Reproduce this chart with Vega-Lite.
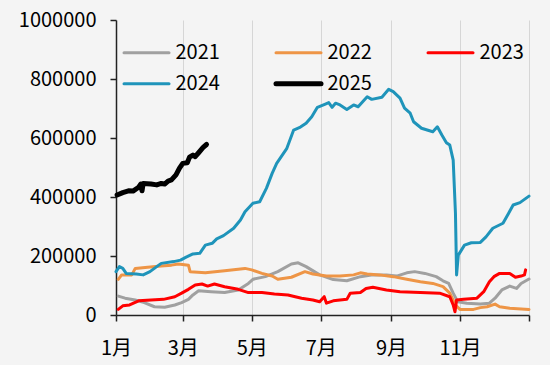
{
 "$schema": "https://vega.github.io/schema/vega-lite/v6.json",
 "width": 413, "height": 295,
 "autosize": {"type": "none"},
 "padding": {"left": 116, "top": 20, "right": 21, "bottom": 50},
 "background": "#f4f4f4",
 "config": {"view": {"stroke": null}, "font": "Noto Sans CJK SC"},
 "data": {"values": [
  {"year":"2021","day":2,"value":64000},{"year":"2021","day":8,"value":57000},{"year":"2021","day":17,"value":51000},{"year":"2021","day":25,"value":42000},{"year":"2021","day":34,"value":28000},{"year":"2021","day":43,"value":26000},{"year":"2021","day":52,"value":34000},{"year":"2021","day":58,"value":42000},{"year":"2021","day":64,"value":53000},{"year":"2021","day":68,"value":68000},{"year":"2021","day":73,"value":82000},{"year":"2021","day":84,"value":79000},{"year":"2021","day":96,"value":76000},{"year":"2021","day":108,"value":85000},{"year":"2021","day":117,"value":107000},{"year":"2021","day":121,"value":121000},{"year":"2021","day":132,"value":130000},{"year":"2021","day":143,"value":147000},{"year":"2021","day":155,"value":173000},{"year":"2021","day":161,"value":177000},{"year":"2021","day":168,"value":164000},{"year":"2021","day":180,"value":136000},{"year":"2021","day":192,"value":120000},{"year":"2021","day":204,"value":116000},{"year":"2021","day":216,"value":130000},{"year":"2021","day":227,"value":136000},{"year":"2021","day":239,"value":136000},{"year":"2021","day":248,"value":132000},{"year":"2021","day":257,"value":143000},{"year":"2021","day":264,"value":147000},{"year":"2021","day":273,"value":141000},{"year":"2021","day":283,"value":130000},{"year":"2021","day":289,"value":116000},{"year":"2021","day":294,"value":107000},{"year":"2021","day":298,"value":74000},{"year":"2021","day":302,"value":45000},{"year":"2021","day":310,"value":40000},{"year":"2021","day":322,"value":37000},{"year":"2021","day":330,"value":40000},{"year":"2021","day":335,"value":57000},{"year":"2021","day":341,"value":85000},{"year":"2021","day":348,"value":98000},{"year":"2021","day":354,"value":90000},{"year":"2021","day":358,"value":107000},{"year":"2021","day":365,"value":122000},

  {"year":"2022","day":2,"value":121000},{"year":"2022","day":5,"value":136000},{"year":"2022","day":14,"value":136000},{"year":"2022","day":17,"value":158000},{"year":"2022","day":28,"value":162000},{"year":"2022","day":40,"value":166000},{"year":"2022","day":49,"value":169000},{"year":"2022","day":55,"value":173000},{"year":"2022","day":64,"value":169000},{"year":"2022","day":65.5,"value":147000},{"year":"2022","day":79,"value":143000},{"year":"2022","day":96,"value":150000},{"year":"2022","day":114,"value":158000},{"year":"2022","day":120,"value":153000},{"year":"2022","day":129,"value":141000},{"year":"2022","day":138,"value":132000},{"year":"2022","day":143,"value":121000},{"year":"2022","day":155,"value":128000},{"year":"2022","day":167,"value":147000},{"year":"2022","day":174,"value":139000},{"year":"2022","day":186,"value":132000},{"year":"2022","day":198,"value":132000},{"year":"2022","day":210,"value":136000},{"year":"2022","day":216,"value":143000},{"year":"2022","day":222,"value":139000},{"year":"2022","day":233,"value":136000},{"year":"2022","day":245,"value":130000},{"year":"2022","day":257,"value":121000},{"year":"2022","day":269,"value":113000},{"year":"2022","day":280,"value":107000},{"year":"2022","day":289,"value":96000},{"year":"2022","day":295,"value":74000},{"year":"2022","day":300,"value":34000},{"year":"2022","day":304,"value":19000},{"year":"2022","day":316,"value":19000},{"year":"2022","day":322,"value":25000},{"year":"2022","day":328,"value":28000},{"year":"2022","day":335,"value":37000},{"year":"2022","day":339,"value":28000},{"year":"2022","day":348,"value":23000},{"year":"2022","day":365,"value":19000},

  {"year":"2023","day":2,"value":19000},{"year":"2023","day":6,"value":31000},{"year":"2023","day":12,"value":34000},{"year":"2023","day":20,"value":48000},{"year":"2023","day":31,"value":51000},{"year":"2023","day":42,"value":53000},{"year":"2023","day":52,"value":62000},{"year":"2023","day":58,"value":74000},{"year":"2023","day":64,"value":87000},{"year":"2023","day":70,"value":102000},{"year":"2023","day":76,"value":105000},{"year":"2023","day":81,"value":98000},{"year":"2023","day":87,"value":105000},{"year":"2023","day":96,"value":96000},{"year":"2023","day":108,"value":87000},{"year":"2023","day":117,"value":76000},{"year":"2023","day":129,"value":76000},{"year":"2023","day":140,"value":71000},{"year":"2023","day":152,"value":68000},{"year":"2023","day":164,"value":57000},{"year":"2023","day":174,"value":51000},{"year":"2023","day":180,"value":45000},{"year":"2023","day":184,"value":62000},{"year":"2023","day":186,"value":40000},{"year":"2023","day":192,"value":48000},{"year":"2023","day":204,"value":53000},{"year":"2023","day":207,"value":74000},{"year":"2023","day":216,"value":76000},{"year":"2023","day":221,"value":90000},{"year":"2023","day":227,"value":94000},{"year":"2023","day":239,"value":85000},{"year":"2023","day":251,"value":79000},{"year":"2023","day":269,"value":76000},{"year":"2023","day":286,"value":74000},{"year":"2023","day":295,"value":62000},{"year":"2023","day":298,"value":34000},{"year":"2023","day":299.6,"value":11000},{"year":"2023","day":301,"value":51000},{"year":"2023","day":307,"value":53000},{"year":"2023","day":319,"value":57000},{"year":"2023","day":325,"value":79000},{"year":"2023","day":330,"value":113000},{"year":"2023","day":334,"value":130000},{"year":"2023","day":339,"value":141000},{"year":"2023","day":348,"value":141000},{"year":"2023","day":353,"value":128000},{"year":"2023","day":358,"value":132000},{"year":"2023","day":361,"value":136000},{"year":"2023","day":362,"value":153000},

  {"year":"2024","day":0,"value":147000},{"year":"2024","day":3,"value":164000},{"year":"2024","day":6,"value":158000},{"year":"2024","day":9,"value":141000},{"year":"2024","day":18,"value":139000},{"year":"2024","day":24,"value":136000},{"year":"2024","day":30,"value":147000},{"year":"2024","day":36,"value":164000},{"year":"2024","day":40,"value":175000},{"year":"2024","day":51,"value":181000},{"year":"2024","day":57,"value":186000},{"year":"2024","day":62,"value":196000},{"year":"2024","day":68,"value":207000},{"year":"2024","day":74,"value":209000},{"year":"2024","day":79,"value":237000},{"year":"2024","day":85,"value":243000},{"year":"2024","day":89,"value":258000},{"year":"2024","day":95,"value":269000},{"year":"2024","day":104,"value":294000},{"year":"2024","day":110,"value":322000},{"year":"2024","day":114,"value":350000},{"year":"2024","day":121,"value":379000},{"year":"2024","day":127,"value":384000},{"year":"2024","day":133,"value":430000},{"year":"2024","day":138,"value":480000},{"year":"2024","day":142,"value":514000},{"year":"2024","day":145,"value":531000},{"year":"2024","day":151,"value":565000},{"year":"2024","day":157,"value":627000},{"year":"2024","day":163,"value":637000},{"year":"2024","day":168,"value":650000},{"year":"2024","day":173,"value":672000},{"year":"2024","day":178,"value":704000},{"year":"2024","day":185,"value":715000},{"year":"2024","day":188,"value":720000},{"year":"2024","day":191,"value":704000},{"year":"2024","day":194,"value":718000},{"year":"2024","day":198,"value":712000},{"year":"2024","day":204,"value":697000},{"year":"2024","day":210,"value":712000},{"year":"2024","day":214,"value":706000},{"year":"2024","day":218,"value":723000},{"year":"2024","day":222,"value":740000},{"year":"2024","day":226,"value":731000},{"year":"2024","day":235,"value":738000},{"year":"2024","day":241,"value":765000},{"year":"2024","day":245,"value":757000},{"year":"2024","day":251,"value":735000},{"year":"2024","day":255,"value":701000},{"year":"2024","day":260,"value":684000},{"year":"2024","day":263,"value":655000},{"year":"2024","day":270,"value":633000},{"year":"2024","day":280,"value":621000},{"year":"2024","day":284,"value":638000},{"year":"2024","day":288,"value":610000},{"year":"2024","day":292,"value":584000},{"year":"2024","day":295,"value":576000},{"year":"2024","day":298,"value":525000},{"year":"2024","day":300,"value":345000},{"year":"2024","day":301,"value":136000},{"year":"2024","day":302.5,"value":203000},{"year":"2024","day":308,"value":237000},{"year":"2024","day":314,"value":245000},{"year":"2024","day":322,"value":246000},{"year":"2024","day":327,"value":265000},{"year":"2024","day":333,"value":294000},{"year":"2024","day":342,"value":311000},{"year":"2024","day":347,"value":345000},{"year":"2024","day":351,"value":373000},{"year":"2024","day":357,"value":381000},{"year":"2024","day":365,"value":403000},

  {"year":"2025","day":1,"value":407000},{"year":"2025","day":6,"value":415000},{"year":"2025","day":11,"value":421000},{"year":"2025","day":15,"value":420000},{"year":"2025","day":20,"value":433000},{"year":"2025","day":22,"value":444000},{"year":"2025","day":23,"value":421000},{"year":"2025","day":24,"value":446000},{"year":"2025","day":31,"value":444000},{"year":"2025","day":36,"value":441000},{"year":"2025","day":40,"value":446000},{"year":"2025","day":43,"value":444000},{"year":"2025","day":46,"value":454000},{"year":"2025","day":49,"value":458000},{"year":"2025","day":53,"value":475000},{"year":"2025","day":56,"value":497000},{"year":"2025","day":59,"value":514000},{"year":"2025","day":63,"value":516000},{"year":"2025","day":65,"value":535000},{"year":"2025","day":68,"value":542000},{"year":"2025","day":70,"value":537000},{"year":"2025","day":73,"value":550000},{"year":"2025","day":77,"value":568000},{"year":"2025","day":80,"value":578000}
 ]},
 "mark": {"type": "line", "strokeJoin": "round", "strokeCap": "round"},
 "encoding": {
  "x": {"field": "day", "type": "quantitative",
   "scale": {"domain": [0, 365], "nice": false, "zero": false},
   "axis": {"title": null, "values": [0, 59, 120, 181, 243, 304, 365],
    "labelExpr": "datum.value == 0 ? '1月' : datum.value == 59 ? '3月' : datum.value == 120 ? '5月' : datum.value == 181 ? '7月' : datum.value == 243 ? '9月' : datum.value == 304 ? '11月' : ''",
    "grid": true, "gridColor": "#d6d6d6", "gridWidth": 1,
    "domainColor": "#222222", "domainWidth": 1.5, "tickColor": "#222222", "tickWidth": 1.5, "tickSize": 6,
    "labelFont": "Noto Sans CJK SC", "labelFontSize": 20, "labelColor": "#000000", "labelPadding": 17,
    "labelFlush": false, "labelOverlap": false}},
  "y": {"field": "value", "type": "quantitative",
   "scale": {"domain": [0, 1000000], "nice": false},
   "axis": {"title": null, "values": [0, 200000, 400000, 600000, 800000, 1000000], "format": "d",
    "grid": false, "domainColor": "#222222", "domainWidth": 1.5, "tickColor": "#222222", "tickWidth": 1.5, "tickSize": 6,
    "labelFont": "Noto Sans CJK SC", "labelFontSize": 20, "labelColor": "#000000", "labelPadding": 14, "labelOverlap": false}},
  "color": {"field": "year", "type": "nominal",
   "scale": {"domain": ["2021", "2022", "2023", "2024", "2025"], "range": ["#a0a0a0", "#ee9546", "#ff0000", "#1f94ba", "#000000"]},
   "legend": {"title": null, "orient": "none", "legendX": 10, "legendY": 22.7, "columns": 3, "gridAlign": "all",
    "values": ["2021", "2024", "2022", "2025", "2023"],
    "symbolType": "stroke", "symbolSize": 2025, "symbolStrokeWidth": 3, "symbolOffset": 10.5, "labelFont": "Noto Sans CJK SC", "labelFontSize": 20, "labelColor": "#000000",
    "labelOffset": 19, "columnPadding": 46, "rowPadding": 11, "padding": 0,
    "encode": {"symbols": {"update": {"strokeWidth": {"signal": "datum.value === '2025' ? 5 : 3"}, "strokeCap": {"value": "round"}}}}}},
  "strokeWidth": {"condition": {"test": "datum.year === '2025'", "value": 5}, "value": 3}
 }
}
